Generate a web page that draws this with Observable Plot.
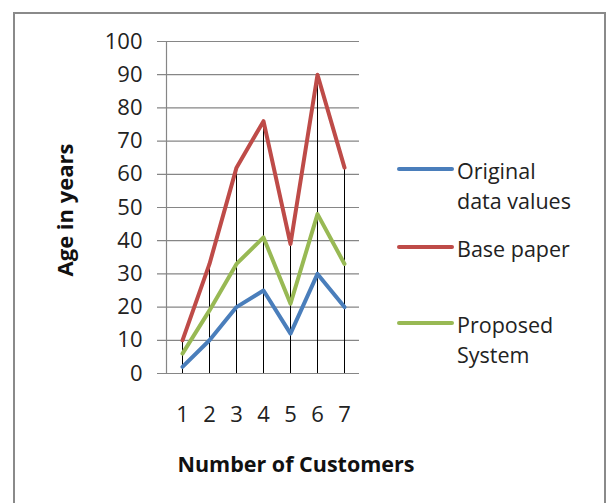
<!DOCTYPE html>
<html>
<head>
<meta charset="utf-8">
<script src="https://cdn.jsdelivr.net/npm/d3@7"></script>
<script src="https://cdn.jsdelivr.net/npm/@observablehq/plot@0.6"></script>
<style>
  html, body { margin: 0; padding: 0; background: #fff; }
  #wrap { position: relative; width: 606px; height: 503px; overflow: hidden; font-family: "Open Sans", sans-serif; }
  #wrap > svg { position: absolute; left: 0; top: 0; }
</style>
</head>
<body>
<div id="wrap"></div>
<script>
const customers = [1, 2, 3, 4, 5, 6, 7];
const originalValues = [2, 10, 20, 25, 12, 30, 20];
const basePaper = [10, 33, 62, 76, 39, 90, 62];
const proposedSystem = [6, 19, 33, 41, 21, 48, 33];
const seriesNames = ["Original data values", "Base paper", "Proposed System"];
const seriesColors = ["#4a7ebb", "#be4b48", "#98b954"];
const yTicks = [0, 10, 20, 30, 40, 50, 60, 70, 80, 90, 100];

const seriesValues = [originalValues, basePaper, proposedSystem];
const rows = [];
seriesNames.forEach((s, i) => customers.forEach((c, j) => rows.push({series: s, customer: c, value: seriesValues[i][j]})));
const drops = customers.map((c, j) => ({customer: c, top: d3.max(seriesValues, v => v[j])}));

const chart = Plot.plot({
  width: 606,
  height: 503,
  marginLeft: 166,
  marginRight: 247,
  marginTop: 41,
  marginBottom: 130,
  style: {fontFamily: "'Open Sans', sans-serif", fontSize: "22px", color: "#222", background: "transparent"},
  x: {type: "point", domain: customers, padding: 0.5},
  y: {domain: [0, 100]},
  color: {domain: seriesNames, range: seriesColors},
  marks: [
    Plot.ruleY(yTicks, {stroke: "#868686", strokeWidth: 1.2, insetLeft: -9}),
    Plot.frame({anchor: "left", stroke: "#868686", strokeWidth: 1.2}),
    Plot.ruleX(drops, {x: "customer", y1: 0, y2: "top", stroke: "#000", strokeWidth: 1}),
    Plot.line(rows, {x: "customer", y: "value", z: "series", stroke: "series", strokeWidth: 4, strokeLinejoin: "round", strokeLinecap: "round"}),
    Plot.axisY({ticks: yTicks, tickSize: 0, tickPadding: 24, label: null, fontSize: 22}),
    Plot.axisX({tickSize: 0, tickPadding: 33, label: null, fontSize: 22})
  ]
});
document.getElementById("wrap").appendChild(chart);

// overlay: border, axis titles, legend
const W = 606, H = 503;
const ov = d3.select("#wrap").append("svg").attr("width", W).attr("height", H)
  .style("font-family", "'Open Sans', sans-serif");
ov.append("path").attr("d", `M14,${H + 5} L14,13 L605,13 L605,${H + 5}`)
  .attr("fill", "none").attr("stroke", "#8a8a8a").attr("stroke-width", 2);
ov.append("text").attr("x", 296).attr("y", 472).attr("text-anchor", "middle")
  .attr("font-weight", "bold").attr("font-size", 21.5).attr("fill", "#111").text("Number of Customers");
ov.append("text").attr("transform", "translate(73,210) rotate(-90)").attr("text-anchor", "middle")
  .attr("font-weight", "bold").attr("font-size", 22).attr("fill", "#111").text("Age in years");

const legendItems = [
  {y: 169, lines: ["Original", "data values"]},
  {y: 247, lines: ["Base paper"]},
  {y: 323, lines: ["Proposed", "System"]}
];
legendItems.forEach((it, i) => {
  ov.append("line").attr("x1", 399).attr("x2", 452).attr("y1", it.y).attr("y2", it.y)
    .attr("stroke", seriesColors[i]).attr("stroke-width", 4).attr("stroke-linecap", "round");
  const t = ov.append("text").attr("x", 457).attr("y", it.y + 10).attr("font-size", 21.5).attr("fill", "#222");
  it.lines.forEach((l, k) => t.append("tspan").attr("x", 457).attr("dy", k === 0 ? 0 : 30).text(l));
});
</script>
</body>
</html>
